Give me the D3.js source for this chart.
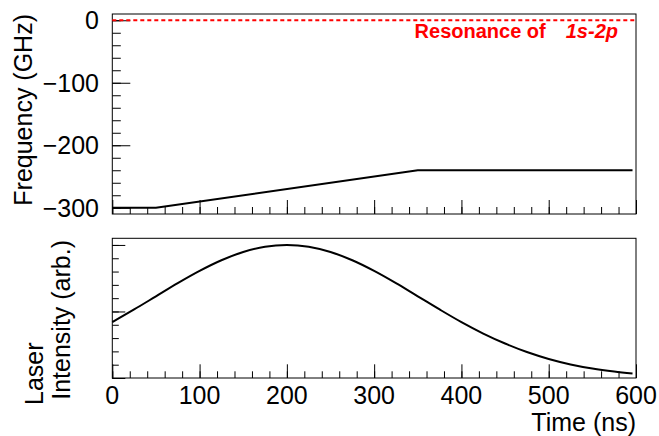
<!DOCTYPE html>
<html>
<head>
<meta charset="utf-8">
<script src="https://cdn.jsdelivr.net/npm/d3@7"></script>
<style>
  html, body { margin: 0; padding: 0; background: #fff; }
  svg { display: block; font-family: "Liberation Sans", Arial, Helvetica, sans-serif; }
</style>
</head>
<body>
<svg id="chart" width="659" height="436"></svg>
<script>
// Detuning sweep of the laser frequency (GHz) versus time (ns)
const sweepTime = [0, 50, 350, 596];
const sweepFreq = [-300, -300, -240, -240];

// Laser pulse intensity profile (arbitrary units) versus time (ns)
const pulseTime = [0, 25, 50, 75, 100, 125, 150, 175, 200, 225, 250, 275, 300,
                   325, 350, 375, 400, 425, 450, 475, 500, 525, 550, 575, 596];
const pulseIntensity = [0.42, 0.515, 0.614, 0.713, 0.805, 0.885, 0.947, 0.987, 1.0,
                        0.987, 0.947, 0.885, 0.805, 0.713, 0.614, 0.515, 0.42, 0.334,
                        0.259, 0.195, 0.143, 0.102, 0.071, 0.048, 0.033];

// Resonance marker
const resonanceFreq = 0;

// Tick values
const timeTicks = [0, 100, 200, 300, 400, 500, 600];
const freqTicks = [0, -100, -200, -300];
const intensityTicks = [0, 0.5, 1.0];

const FS = 25;
const svg = d3.select("#chart");

const x = d3.scaleLinear().domain([0, 600]).range([112.3, 636]);
const yTop = d3.scaleLinear().domain([-310, 10]).range([214, 14]);
const yBot = d3.scaleLinear().domain([0, 1.05]).range([378, 238.3]);

const fmtMinus = d => d < 0 ? "\u2212" + Math.abs(d) : String(d);

// ---------- frames ----------
function frame(yScale) {
  const [y0, y1] = yScale.range();
  svg.append("rect")
    .attr("x", x.range()[0]).attr("y", y1)
    .attr("width", x.range()[1] - x.range()[0]).attr("height", y0 - y1)
    .attr("fill", "none").attr("stroke", "#000").attr("stroke-width", 1);
}
frame(yTop);
frame(yBot);

// ---------- axes ----------
function minorRange(a, b, step) {
  const out = [];
  for (let v = a; v <= b + 1e-9; v += step) out.push(+v.toFixed(6));
  return out;
}

function timeAxis(yScale, majorLen, minorLen, labels) {
  const yPos = yScale.range()[0];
  const g = svg.append("g").attr("transform", `translate(0,${yPos})`);
  g.call(d3.axisTop(x).tickValues(minorRange(0, 600, 20)).tickSize(minorLen).tickFormat(""));
  g.select(".domain").remove();
  const gM = svg.append("g").attr("transform", `translate(0,${yPos})`);
  gM.call(d3.axisTop(x).tickValues(timeTicks).tickSize(majorLen).tickFormat(""));
  gM.select(".domain").remove();
  if (labels) {
    svg.append("g").selectAll("text").data(timeTicks).join("text")
      .attr("x", d => x(d)).attr("y", 404)
      .attr("text-anchor", "middle")
      .attr("font-size", FS)
      .text(d => d);
  }
}
timeAxis(yTop, 14, 7, false);
timeAxis(yBot, 13.7, 6.7, true);

// frequency axis
{
  const g = svg.append("g").attr("transform", `translate(${x.range()[0]},0)`);
  g.call(d3.axisRight(yTop).tickValues(minorRange(-300, 0, 20)).tickSize(8.5).tickFormat(""));
  g.select(".domain").remove();
  const gM = svg.append("g").attr("transform", `translate(${x.range()[0]},0)`);
  gM.call(d3.axisRight(yTop).tickValues(freqTicks).tickSize(18).tickFormat(""));
  gM.select(".domain").remove();
  svg.append("g").selectAll("text").data(freqTicks).join("text")
    .attr("x", 99).attr("y", d => yTop(d))
    .attr("dy", "0.36em")
    .attr("text-anchor", "end")
    .attr("font-size", FS)
    .text(fmtMinus);
}

// intensity axis (no labels)
{
  const g = svg.append("g").attr("transform", `translate(${x.range()[0]},0)`);
  g.call(d3.axisRight(yBot).tickValues(minorRange(0, 1.0, 0.1)).tickSize(6.5).tickFormat(""));
  g.select(".domain").remove();
  const gM = svg.append("g").attr("transform", `translate(${x.range()[0]},0)`);
  gM.call(d3.axisRight(yBot).tickValues(intensityTicks).tickSize(13).tickFormat(""));
  gM.select(".domain").remove();
}
svg.selectAll(".tick line").attr("stroke", "#000").attr("stroke-width", 1);

// ---------- resonance marker ----------
svg.append("line")
  .attr("x1", x(0)).attr("x2", x(600))
  .attr("y1", yTop(resonanceFreq)).attr("y2", yTop(resonanceFreq))
  .attr("stroke", "#ff0000").attr("stroke-width", 2)
  .attr("stroke-dasharray", "4,3");

const res = svg.append("text")
  .attr("x", 618).attr("y", 38)
  .attr("text-anchor", "end")
  .attr("fill", "#ff0000")
  .attr("font-size", 20)
  .attr("font-weight", "bold");
res.append("tspan").text("Resonance of");
res.append("tspan").attr("dx", 20).attr("font-style", "italic").text("1s-2p");

// ---------- data curves ----------
const sweep = sweepTime.map((t, i) => [t, sweepFreq[i]]);
svg.append("path")
  .datum(sweep)
  .attr("fill", "none").attr("stroke", "#000").attr("stroke-width", 2)
  .attr("d", d3.line().x(d => x(d[0])).y(d => yTop(d[1])));

const pulse = pulseTime.map((t, i) => [t, pulseIntensity[i]]);
svg.append("path")
  .datum(pulse)
  .attr("fill", "none").attr("stroke", "#000").attr("stroke-width", 2)
  .attr("d", d3.line().curve(d3.curveCatmullRom).x(d => x(d[0])).y(d => yBot(d[1])));

// ---------- axis titles ----------
svg.append("text")
  .attr("x", 636).attr("y", 431)
  .attr("text-anchor", "end")
  .attr("font-size", FS)
  .text("Time (ns)");

svg.append("text")
  .attr("transform", `translate(32,14) rotate(-90)`)
  .attr("text-anchor", "end")
  .attr("font-size", FS)
  .text("Frequency (GHz)");

svg.append("text")
  .attr("transform", `translate(43,405) rotate(-90)`)
  .attr("text-anchor", "start")
  .attr("font-size", FS)
  .text("Laser");
svg.append("text")
  .attr("transform", `translate(70,240) rotate(-90)`)
  .attr("text-anchor", "end")
  .attr("font-size", FS)
  .text("Intensity (arb.)");
</script>
</body>
</html>
